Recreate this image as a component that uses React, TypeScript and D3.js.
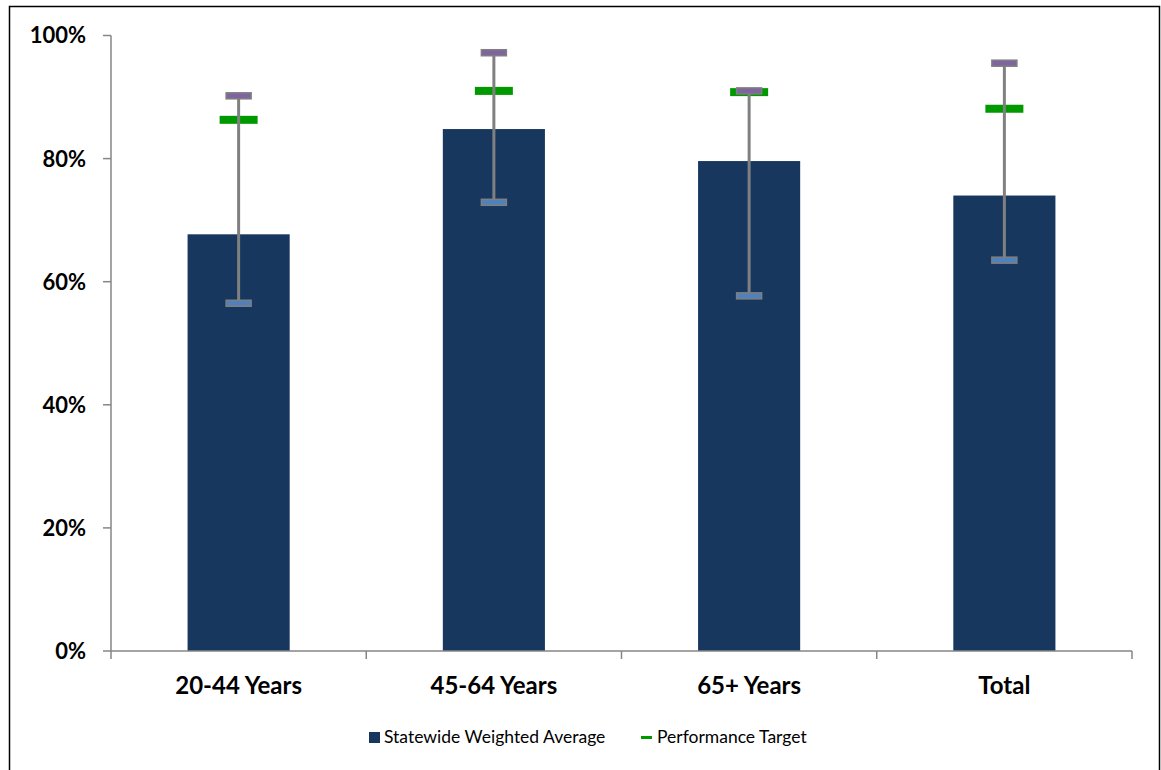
import React from "react";
import * as d3 from "d3";

const categories = ["20-44 Years", "45-64 Years", "65+ Years", "Total"];
const averages = [67.7, 84.8, 79.6, 74.0];
const upperBounds = [90.2, 97.2, 91.0, 95.5];
const lowerBounds = [56.5, 72.9, 57.7, 63.5];
const targets = [86.3, 91.0, 90.8, 88.1];
const yTicks = [0, 20, 40, 60, 80, 100];

const W = 1161;
const H = 770;
const margin = { left: 111, right: 29, top: 35.5, bottom: 119 };

export default function App() {
  const x = d3
    .scaleBand<string>()
    .domain(categories)
    .range([margin.left, W - margin.right])
    .padding(0);
  const y = d3
    .scaleLinear()
    .domain([0, 100])
    .range([H - margin.bottom, margin.top]);
  const barW = x.bandwidth() * 0.4;
  const y0 = y(0);
  const axisColor = "#868686";
  const font = "Lato, 'Open Sans', sans-serif";
  const boundaries = [...categories.map((c) => x(c) as number), W - margin.right];

  return (
    <svg
      width={W}
      height={H}
      style={{ position: "absolute", left: 0, top: 0, background: "#fff" }}
    >
      <rect x={0} y={0} width={W} height={H} fill="#fff" />
      <rect
        x={9.5}
        y={6.5}
        width={1150}
        height={820}
        fill="none"
        stroke="#000"
        strokeWidth={1.5}
      />
      {/* Bars */}
      {categories.map((c, i) => {
        const cx = (x(c) as number) + x.bandwidth() / 2;
        return (
          <rect
            key={"b" + c}
            x={cx - barW / 2}
            y={y(averages[i])}
            width={barW}
            height={y0 - y(averages[i])}
            fill="#17375E"
          />
        );
      })}
      {/* Y axis */}
      <line x1={margin.left} x2={margin.left} y1={y(100)} y2={y0} stroke={axisColor} strokeWidth={1.5} />
      {yTicks.map((t) => (
        <g key={"yt" + t}>
          <line x1={margin.left - 8} x2={margin.left} y1={y(t)} y2={y(t)} stroke={axisColor} strokeWidth={1.5} />
          <text
            x={86}
            y={y(t)}
            dy="0.36em"
            textAnchor="end"
            fontFamily={font}
            fontWeight="bold"
            fontSize={22}
            fill="#000"
          >
            {t}%
          </text>
        </g>
      ))}
      {/* X axis */}
      <line x1={margin.left} x2={W - margin.right} y1={y0} y2={y0} stroke={axisColor} strokeWidth={1.5} />
      {boundaries.map((b, i) => (
        <line key={"xt" + i} x1={b} x2={b} y1={y0} y2={y0 + 8} stroke={axisColor} strokeWidth={1.5} />
      ))}
      {categories.map((c) => (
        <text
          key={"xl" + c}
          x={(x(c) as number) + x.bandwidth() / 2}
          y={694}
          textAnchor="middle"
          fontFamily={font}
          fontWeight="bold"
          fontSize={24}
          fill="#000"
        >
          {c}
        </text>
      ))}
      {/* Targets */}
      {categories.map((c, i) => {
        const cx = (x(c) as number) + x.bandwidth() / 2;
        return (
          <rect
            key={"t" + c}
            x={cx - 19}
            y={y(targets[i]) - 4}
            width={38}
            height={8}
            fill="#009900"
          />
        );
      })}
      {/* Error bars */}
      {categories.map((c, i) => {
        const cx = (x(c) as number) + x.bandwidth() / 2;
        const yu = y(upperBounds[i]);
        const yl = y(lowerBounds[i]);
        return (
          <g key={"e" + c}>
            <line x1={cx} x2={cx} y1={yu} y2={yl} stroke="#808080" strokeWidth={3} />
            <rect x={cx - 12.5} y={yu - 3} width={25} height={6} fill="#8064A2" stroke="#7f7f7f" strokeWidth={1.5} />
            <rect x={cx - 12.5} y={yl - 3} width={25} height={6} fill="#4F81BD" stroke="#7f7f7f" strokeWidth={1.5} />
          </g>
        );
      })}
      {/* Legend */}
      <rect x={369} y={732} width={11} height={11} fill="#17375E" />
      <text x={384} y={743} fontFamily={font} fontSize={17.5} fill="#000">
        Statewide Weighted Average
      </text>
      <rect x={641} y={736} width={11} height={3} fill="#009900" />
      <text x={657} y={743} fontFamily={font} fontSize={17.5} fill="#000">
        Performance Target
      </text>
    </svg>
  );
}
